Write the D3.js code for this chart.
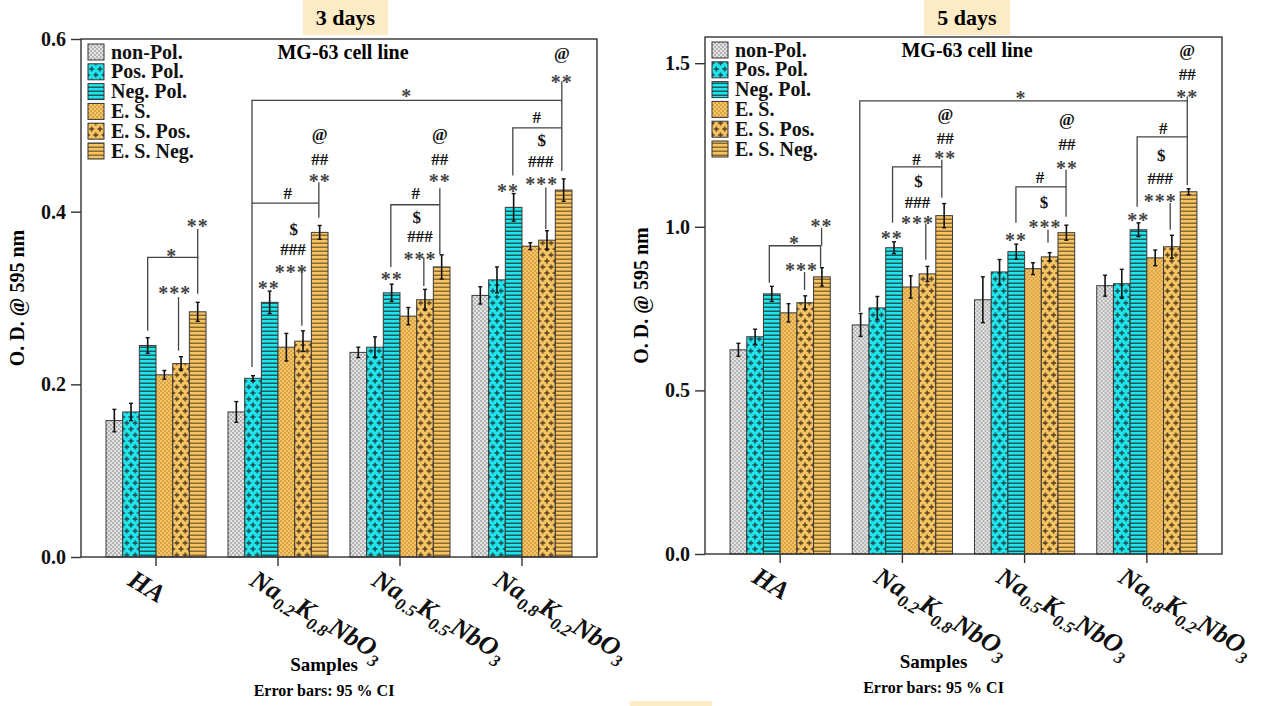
<!DOCTYPE html>
<html>
<head>
<meta charset="utf-8">
<script src="https://cdn.jsdelivr.net/npm/d3@7"></script>
<style>
  body { margin: 0; background: #fff; }
  svg { display: block; }
  text { font-family: "Liberation Serif", "Times New Roman", serif; font-weight: bold; }
</style>
</head>
<body>
<svg id="chart" width="1264" height="706"></svg>
<script>
// ---- data ----
const categories = ["HA", "Na0.2K0.8NbO3", "Na0.5K0.5NbO3", "Na0.8K0.2NbO3"];
const seriesNames = ["non-Pol.", "Pos. Pol.", "Neg. Pol.", "E. S.", "E. S. Pos.", "E. S. Neg."];
const yTicks3 = [0, 0.2, 0.4, 0.6];
const yTicks5 = [0, 0.5, 1.0, 1.5];

// O.D. means, one row per category, one column per series
const od3 = [
  [0.158, 0.168, 0.245, 0.211, 0.224, 0.284],
  [0.168, 0.207, 0.295, 0.243, 0.250, 0.376],
  [0.237, 0.243, 0.306, 0.279, 0.298, 0.336],
  [0.303, 0.321, 0.405, 0.360, 0.367, 0.425]
];
const ci3 = [
  [0.013, 0.010, 0.009, 0.005, 0.008, 0.011],
  [0.012, 0.003, 0.013, 0.016, 0.012, 0.008],
  [0.006, 0.012, 0.010, 0.010, 0.012, 0.014],
  [0.010, 0.015, 0.016, 0.004, 0.011, 0.013]
];
const od5 = [
  [0.624, 0.664, 0.795, 0.737, 0.768, 0.847],
  [0.700, 0.752, 0.936, 0.816, 0.856, 1.034],
  [0.777, 0.862, 0.924, 0.872, 0.908, 0.982],
  [0.820, 0.826, 0.991, 0.905, 0.939, 1.107]
];
const ci5 = [
  [0.020, 0.023, 0.023, 0.028, 0.021, 0.028],
  [0.035, 0.035, 0.018, 0.034, 0.023, 0.037],
  [0.070, 0.038, 0.023, 0.018, 0.013, 0.023],
  [0.032, 0.044, 0.021, 0.024, 0.035, 0.009]
];

// significance marks: [category, bar position, value, text]
const marks3 = [
  [0, 5, 0.390, "**"], [0, 3.45, 0.355, "*"], [0, 3.63, 0.312, "***"],
  [2, 2.91, 0.540, "*"], [3, 4.89, 0.557, "**"], [3, 4.89, 0.584, "@"],
  [1, 1.95, 0.318, "**"], [1, 3.09, 0.422, "#"], [1, 5.0, 0.442, "**"], [1, 5.0, 0.461, "##"],
  [1, 5.0, 0.490, "@"], [1, 3.45, 0.380, "$"], [1, 3.4, 0.356, "###"], [1, 3.3, 0.337, "***"],
  [2, 2.0, 0.328, "**"], [2, 3.45, 0.422, "#"], [2, 3.5, 0.394, "$"], [2, 3.7, 0.372, "###"],
  [2, 3.7, 0.352, "***"], [2, 4.89, 0.442, "**"], [2, 4.89, 0.461, "##"], [2, 4.89, 0.490, "@"],
  [3, 1.66, 0.430, "**"], [3, 3.39, 0.509, "#"], [3, 3.69, 0.483, "$"], [3, 3.63, 0.459, "###"],
  [3, 3.69, 0.438, "***"]
];
// bracket / stem polylines: list of [category, bar position, value]
const links3 = [
  [[0, 2, 0.262], [0, 2, 0.347], [0, 5, 0.347], [0, 5, 0.305]],
  [[0, 5, 0.380], [0, 5, 0.347]],
  [[0, 3.85, 0.301], [0, 3.85, 0.239]],
  [[1, 0.94, 0.22], [1, 0.94, 0.529], [3, 4.89, 0.529]],
  [[3, 4.89, 0.551], [3, 4.89, 0.447]],
  [[1, 0.94, 0.410], [1, 4.95, 0.410]],
  [[1, 4.95, 0.434], [1, 4.95, 0.393]],
  [[1, 3.93, 0.334], [1, 3.93, 0.268]],
  [[2, 1.95, 0.336], [2, 1.95, 0.408], [2, 4.89, 0.408]],
  [[2, 4.89, 0.427], [2, 4.89, 0.351]],
  [[2, 3.93, 0.347], [2, 3.93, 0.314]],
  [[3, 1.95, 0.442], [3, 1.95, 0.497], [3, 4.89, 0.497]],
  [[3, 3.93, 0.428], [3, 3.93, 0.380]]
];

const marks5 = [
  [0, 4.98, 1.018, "**"], [0, 3.36, 0.969, "*"], [0, 3.78, 0.884, "***"],
  [2, 2.28, 1.41, "*"], [3, 4.92, 1.413, "**"], [3, 4.92, 1.465, "##"], [3, 4.92, 1.541, "@"],
  [1, 1.86, 0.982, "**"], [1, 5.07, 1.343, "@"], [1, 5.07, 1.272, "##"], [1, 5.07, 1.226, "**"],
  [1, 3.35, 1.208, "#"], [1, 3.47, 1.138, "$"], [1, 3.41, 1.076, "###"], [1, 3.41, 1.028, "***"],
  [2, 5.04, 1.330, "@"], [2, 5.04, 1.251, "##"], [2, 5.04, 1.196, "**"], [2, 3.42, 1.153, "#"],
  [2, 3.66, 1.076, "$"], [2, 3.72, 1.015, "***"], [2, 1.98, 0.976, "**"],
  [3, 3.48, 1.300, "#"], [3, 3.36, 1.220, "$"], [3, 3.3, 1.150, "###"], [3, 3.3, 1.096, "***"],
  [3, 1.98, 1.037, "**"]
];
const links5 = [
  [[0, 4.98, 0.997], [0, 4.98, 0.942]],
  [[0, 1.85, 0.829], [0, 1.85, 0.942], [0, 4.92, 0.942], [0, 4.92, 0.878]],
  [[0, 3.96, 0.862], [0, 3.96, 0.807]],
  [[1, -0.05, 0.74], [1, -0.05, 1.385], [3, 4.92, 1.385]],
  [[3, 4.92, 1.398], [3, 4.92, 1.128]],
  [[1, 4.86, 1.205], [1, 4.86, 1.089]],
  [[1, 1.91, 1.012], [1, 1.91, 1.183], [1, 4.86, 1.183]],
  [[1, 3.9, 1.010], [1, 3.9, 0.899]],
  [[2, 4.98, 1.174], [2, 4.98, 1.031]],
  [[2, 1.98, 1.012], [2, 1.98, 1.122], [2, 4.98, 1.122]],
  [[2, 3.9, 0.991], [2, 3.9, 0.951]],
  [[3, 1.92, 1.061], [3, 1.92, 1.275], [3, 4.92, 1.275]],
  [[3, 3.9, 1.073], [3, 3.9, 0.991]]
];

const svg = d3.select("#chart");
const defs = svg.append("defs");

// ---- fill patterns ----
const cyan = "#1fe6ec", gold = "#f7c463";
function checker(id, base, dot) {
  const p = defs.append("pattern").attr("id", id).attr("patternUnits", "userSpaceOnUse")
    .attr("width", 4).attr("height", 4);
  p.append("rect").attr("width", 4).attr("height", 4).attr("fill", base);
  p.append("rect").attr("width", 2).attr("height", 2).attr("fill", dot);
  p.append("rect").attr("x", 2).attr("y", 2).attr("width", 2).attr("height", 2).attr("fill", dot);
}
function stripes(id, base, line) {
  const p = defs.append("pattern").attr("id", id).attr("patternUnits", "userSpaceOnUse")
    .attr("width", 4).attr("height", 4);
  p.append("rect").attr("width", 4).attr("height", 4).attr("fill", base);
  p.append("rect").attr("y", 2.5).attr("width", 4).attr("height", 1.5).attr("fill", line);
}
function pluses(id, base, ink) {
  const w = 8.33, h = 12;
  const p = defs.append("pattern").attr("id", id).attr("patternUnits", "userSpaceOnUse")
    .attr("width", w).attr("height", h);
  p.append("rect").attr("width", w).attr("height", h).attr("fill", base);
  [[w / 2, h / 4], [0, 3 * h / 4], [w, 3 * h / 4]].forEach(([cx, cy]) => {
    p.append("rect").attr("x", cx - 2.5).attr("y", cy - 0.8).attr("width", 5).attr("height", 1.6).attr("fill", ink);
    p.append("rect").attr("x", cx - 0.8).attr("y", cy - 2.5).attr("width", 1.6).attr("height", 5).attr("fill", ink);
  });
}
checker("p0", "#e4e4e4", "#b4b4b4");
pluses("p1", cyan, "#1d4f55");
stripes("p2", cyan, "#1d5a5e");
checker("p3", gold, "#d7a44a");
pluses("p4", gold, "#5b4320");
stripes("p5", gold, "#8b6a33");
const fills = d3.range(6).map(i => `url(#p${i})`);

function drawChart(cfg) {
  const g = svg.append("g");
  const x0 = d3.scaleBand().domain(categories).range([cfg.left, cfg.right])
    .paddingInner(0.18).paddingOuter(0.205);
  const x1 = d3.scaleBand().domain(d3.range(6)).range([0, x0.bandwidth()]);
  const y = d3.scaleLinear().domain([0, cfg.yMax]).range([cfg.bottom, cfg.top]);
  const px = (c, b) => x0(categories[c]) + (b + 0.5) * x1.step();

  // day label box
  g.append("rect").attr("x", cfg.dayBox[0]).attr("y", 0).attr("width", cfg.dayBox[1] - cfg.dayBox[0])
    .attr("height", 35).attr("fill", "#fdebc6");
  g.append("text").attr("x", (cfg.dayBox[0] + cfg.dayBox[1]) / 2).attr("y", 25)
    .attr("text-anchor", "middle").attr("font-size", 22).text(cfg.day);

  // bars
  categories.forEach((cat, ci) => {
    const grp = g.append("g").attr("transform", `translate(${x0(cat)},0)`);
    grp.selectAll("rect").data(cfg.values[ci]).join("rect")
      .attr("x", (d, i) => x1(i)).attr("width", x1.bandwidth())
      .attr("y", d => y(d)).attr("height", d => y(0) - y(d))
      .attr("fill", (d, i) => fills[i]).attr("stroke", "#3a3a3a").attr("stroke-width", 1);
    // error bars
    cfg.values[ci].forEach((v, i) => {
      const e = cfg.errs[ci][i], cx = x1(i) + x1.bandwidth() / 2;
      grp.append("line").attr("x1", cx).attr("x2", cx).attr("y1", y(v - e)).attr("y2", y(v + e))
        .attr("stroke", "#111").attr("stroke-width", 1.6);
      [v - e, v + e].forEach(t => grp.append("line").attr("x1", cx - 2).attr("x2", cx + 2)
        .attr("y1", y(t)).attr("y2", y(t)).attr("stroke", "#111").attr("stroke-width", 1.4));
    });
  });

  // frame
  g.append("rect").attr("x", cfg.left).attr("y", cfg.top).attr("width", cfg.right - cfg.left)
    .attr("height", cfg.bottom - cfg.top).attr("fill", "none").attr("stroke", "#333").attr("stroke-width", 1.4);

  // axes
  const ya = g.append("g").attr("transform", `translate(${cfg.left},0)`)
    .call(d3.axisLeft(y).tickValues(cfg.ticks).tickFormat(d3.format(".1f")).tickSize(10).tickPadding(5));
  ya.select(".domain").remove();
  ya.selectAll("line").attr("stroke", "#333").attr("stroke-width", 1.4);
  ya.selectAll("text").attr("font-size", 20).attr("font-family", "Liberation Serif").attr("font-weight", "bold").attr("fill", "#111");

  const xa = g.append("g").attr("transform", `translate(0,${cfg.bottom})`)
    .call(d3.axisBottom(x0).tickSize(9).tickFormat(""));
  xa.select(".domain").remove();
  xa.selectAll("line").attr("stroke", "#333").attr("stroke-width", 1.4);

  // category labels with subscripts
  categories.forEach(cat => {
    const t = g.append("text").attr("font-style", "italic").attr("font-size", 26).attr("fill", "#111")
      .attr("transform", `translate(${x0(cat) + x0.bandwidth() / 2 - 20},${cfg.bottom + 11}) rotate(31)`)
      .attr("y", 19);
    const parts = [...cat.matchAll(/([A-Za-z]+)([\d.]*)/g)];
    parts.forEach(m => {
      t.append("tspan").text(m[1]);
      if (m[2]) {
        t.append("tspan").attr("font-size", 17).attr("dy", 7).text(m[2]);
        t.append("tspan").attr("dy", -7).text("\u200b");
      }
    });
  });

  // axis titles
  const midX = (cfg.left + cfg.right) / 2;
  g.append("text").attr("x", midX - cfg.capShift).attr("y", cfg.bottom + 114).attr("text-anchor", "middle")
    .attr("font-size", 19).text("Samples");
  g.append("text").attr("x", midX - cfg.capShift).attr("y", cfg.bottom + 139).attr("text-anchor", "middle")
    .attr("font-size", 16).text("Error bars: 95 % CI");
  g.append("text").attr("transform", `translate(${cfg.left - 57},${(cfg.top + cfg.bottom) / 2}) rotate(-90)`)
    .attr("text-anchor", "middle").attr("font-size", 20).text("O. D. @ 595 nm");

  // chart title
  g.append("text").attr("x", cfg.titleX).attr("y", cfg.top + 20).attr("text-anchor", "middle")
    .attr("font-size", 20).text("MG-63 cell line");

  // legend
  seriesNames.forEach((s, i) => {
    const ly = cfg.top + 13 + i * 19.8;
    g.append("rect").attr("x", cfg.left + 7).attr("y", ly - 8).attr("width", 16).attr("height", 16)
      .attr("fill", fills[i]).attr("stroke", "#333").attr("stroke-width", 1);
    g.append("text").attr("x", cfg.left + 30).attr("y", ly + 6.5).attr("font-size", 20).attr("fill", "#111").text(s);
  });

  // brackets and stems
  const line = d3.line().x(d => px(d[0], d[1])).y(d => y(d[2]));
  g.selectAll("path.link").data(cfg.links).join("path").attr("class", "link")
    .attr("d", line).attr("fill", "none").attr("stroke", "#444").attr("stroke-width", 1.3);

  // significance marks
  g.selectAll("text.mark").data(cfg.marks).join("text").attr("class", "mark")
    .attr("x", d => px(d[0], d[1])).attr("y", d => y(d[2]))
    .attr("text-anchor", "middle").attr("dominant-baseline", "central")
    .attr("dy", d => d[3][0] === "*" ? "0.28em" : "0.02em")
    .attr("font-size", d => d[3][0] === "*" ? 20 : 17)
    .attr("letter-spacing", d => d[3][0] === "*" ? 1 : 0)
    .attr("font-weight", d => d[3][0] === "*" ? "normal" : "bold")
    .attr("fill", d => d[3][0] === "*" ? "#444" : "#111")
    .text(d => d[3]);
}

drawChart({ left: 81, right: 597, top: 39, bottom: 557, yMax: 0.6, ticks: yTicks3,
  values: od3, errs: ci3, marks: marks3, links: links3, day: "3 days", dayBox: [303, 388],
  titleX: 343, capShift: 15 });
drawChart({ left: 705, right: 1222, top: 37, bottom: 554, yMax: 1.58, ticks: yTicks5,
  values: od5, errs: ci5, marks: marks5, links: links5, day: "5 days", dayBox: [924, 1010],
  titleX: 967, capShift: 30 });

// small tinted strip along the bottom edge
svg.append("rect").attr("x", 630).attr("y", 701).attr("width", 82).attr("height", 5).attr("fill", "#fdebc6");
</script>
</body>
</html>
